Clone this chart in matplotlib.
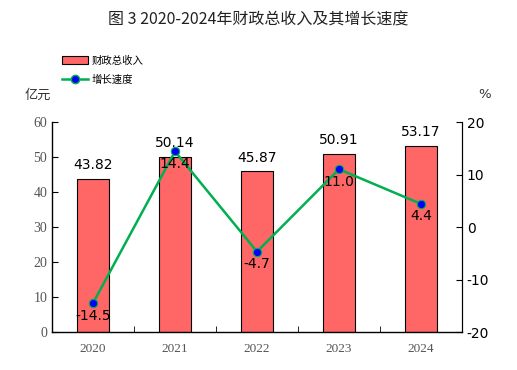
import matplotlib
matplotlib.use("Agg")
import matplotlib.pyplot as plt
from matplotlib.lines import Line2D
from matplotlib.patches import Patch

plt.rcParams['font.family'] = ['DejaVu Sans', 'Noto Sans CJK SC']
plt.rcParams['axes.unicode_minus'] = False

years = ['2020', '2021', '2022', '2023', '2024']
revenue = [43.82, 50.14, 45.87, 50.91, 53.17]
growth = [-14.5, 14.4, -4.7, 11.0, 4.4]
left_ticks = [0, 10, 20, 30, 40, 50, 60]
right_ticks = [-20, -10, 0, 10, 20]

W, H = 517, 370
fig = plt.figure(figsize=(W / 100, H / 100), dpi=100)
ax = fig.add_axes([52 / W, 1 - 332 / H, (462 - 52) / W, (332 - 122) / H])
ax2 = ax.twinx()

x = list(range(len(years)))
ax.bar(x, revenue, width=0.4, color='#FF6666', edgecolor='black', linewidth=0.8, zorder=2)
for xi, v in zip(x, revenue):
    ax.annotate(f'{v:.2f}', (xi, v), xytext=(0, 5), textcoords='offset points',
                ha='center', va='bottom', fontsize=10, color='black')

ax.set_xlim(-0.5, len(years) - 0.5)
ax.set_ylim(0, 60)
ax.set_yticks(left_ticks)
ax.set_xticks(x)
ax.set_xticks([i + 0.5 for i in range(len(years) - 1)], minor=True)
ax.set_xticklabels(years, family=['Liberation Serif'], fontsize=9.5, color='#555555')
ax.set_yticklabels([str(t) for t in left_ticks], family=['Liberation Serif'], fontsize=10, color='#555555')
ax.tick_params(axis='x', which='major', length=0, pad=8)
ax.tick_params(axis='x', which='minor', direction='in', length=4)
ax.tick_params(axis='y', direction='in', length=4)
ax.spines['top'].set_visible(False)
for s in ['left', 'bottom']:
    ax.spines[s].set_linewidth(1.0)

ax2.plot(x, growth, color='#00B050', linewidth=1.8, marker='o', markersize=6,
         markerfacecolor='#0000FF', markeredgecolor='#00B050', markeredgewidth=0.8, zorder=3)
for xi, g in zip(x, growth):
    ax2.annotate(f'{g:.1f}', (xi, g), xytext=(0, -4), textcoords='offset points',
                 ha='center', va='top', fontsize=10, color='black')
ax2.set_ylim(-20, 20)
ax2.set_yticks(right_ticks)
ax2.tick_params(axis='y', direction='in', length=4, labelsize=10)
ax2.spines['top'].set_visible(False)
ax2.spines['left'].set_visible(False)
ax2.spines['bottom'].set_visible(False)

fig.text(0.5, 1 - 20 / H, '图 3 2020-2024年财政总收入及其增长速度', ha='center', va='center',
         fontsize=11.5, family=['Noto Sans CJK SC'], color='#222222')
fig.text(25 / W, 1 - 95 / H, '亿元', ha='left', va='center', fontsize=9.5,
         family=['Noto Sans CJK SC'], color='#333333')
fig.text(485 / W, 1 - 95 / H, '%', ha='center', va='center', fontsize=9.5, color='#333333')

handles = [Patch(facecolor='#FF6666', edgecolor='black', linewidth=0.8),
           Line2D([0], [0], color='#00B050', linewidth=1.8, marker='o', markersize=6,
                  markerfacecolor='#0000FF', markeredgecolor='#00B050')]
leg = fig.legend(handles, ['财政总收入', '增长速度'], loc='center left',
                 bbox_to_anchor=(58 / W, 1 - 70 / H), frameon=False,
                 prop={'family': ['Noto Sans CJK SC'], 'size': 7.5},
                 handlelength=2.5, handletextpad=0.3, labelspacing=0.8, borderaxespad=0)

fig.savefig('out.png', dpi=100)
